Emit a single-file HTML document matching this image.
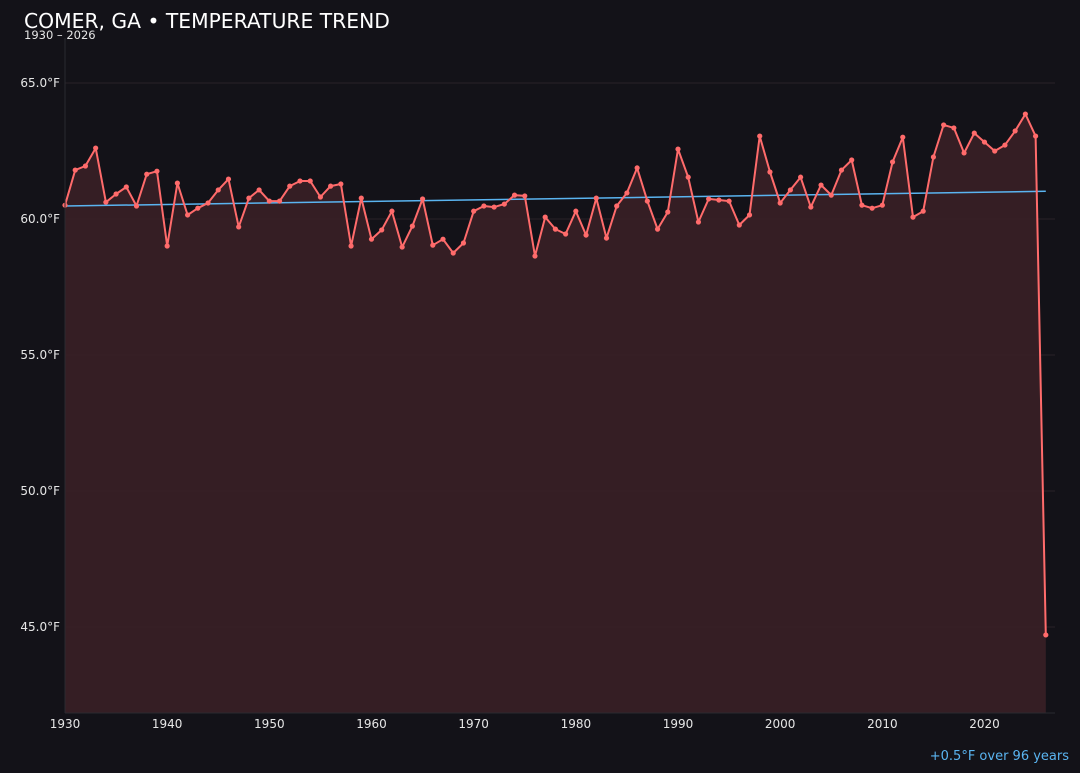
<!DOCTYPE html>
<html><head><meta charset="utf-8">
<style>
html,body{margin:0;padding:0;background:#131218;}
body{width:1080px;height:768px;overflow:hidden;font-family:"Liberation Sans","DejaVu Sans",sans-serif;}
svg text{font-family:"DejaVu Sans","Liberation Sans",sans-serif;}
</style></head>
<body>
<svg id="chart" width="1080" height="768" viewBox="0 0 1080 768" xmlns="http://www.w3.org/2000/svg">
<rect width="1080" height="768" fill="#131218"/>
<text x="24" y="28" fill="#ffffff" font-size="20.3">COMER, GA • TEMPERATURE TREND</text>
<text x="24" y="39" fill="#e6e6e6" font-size="11.5">1930 – 2026</text>
<g id="grid"></g>
<g id="marks"></g>
<g id="axes"></g>
<text x="1069" y="760" fill="#5ab4f0" font-size="13" text-anchor="end">+0.5°F over 96 years</text>
</svg>
<script>
const years = [];
for (let y = 1930; y <= 2026; y++) years.push(y);
const temps = [60.51,61.80,61.95,62.61,60.62,60.92,61.18,60.48,61.65,61.76,
59.01,61.32,60.15,60.40,60.59,61.07,61.47,59.71,60.77,61.07,
60.66,60.66,61.21,61.40,61.40,60.81,61.21,61.29,59.01,60.77,
59.26,59.60,60.29,58.97,59.74,60.74,59.04,59.26,58.75,59.12,
60.29,60.48,60.44,60.55,60.88,60.85,58.64,60.07,59.63,59.45,
60.29,59.41,60.77,59.30,60.48,60.96,61.88,60.66,59.63,60.26,
62.57,61.54,59.89,60.74,60.70,60.66,59.78,60.15,63.05,61.73,
60.59,61.07,61.54,60.44,61.25,60.88,61.80,62.17,60.51,60.40,
60.51,62.10,63.01,60.07,60.29,62.28,63.46,63.35,62.43,63.16,
62.83,62.50,62.72,63.24,63.86,63.05,44.71];
const trendYears = [1930, 2026];
const trendValues = [60.48, 61.02];
const yTicks = [45, 50, 55, 60, 65];
const yTickLabels = ["45.0°F","50.0°F","55.0°F","60.0°F","65.0°F"];
const xTicks = [1930,1940,1950,1960,1970,1980,1990,2000,2010,2020];

const X0=65, X1=1055, Y0=713, PXD=27.2;
const xMin=1930, xMax=2026.9, yMin=41.84;
const yMax = yMin + (Y0-38)/PXD;
const xs = v => X0 + (v-xMin)/(xMax-xMin)*(X1-X0);
const ys = v => Y0 - (v-yMin)/(yMax-yMin)*(Y0-38);
const NS="http://www.w3.org/2000/svg";
function mk(tag, attrs, parent){const e=document.createElementNS(NS,tag);for(const k in attrs)e.setAttribute(k,attrs[k]);parent.appendChild(e);return e;}
const grid=document.getElementById('grid'), marks=document.getElementById('marks'), axes=document.getElementById('axes');

yTicks.forEach((t,i)=>{
  const g=mk('line',{x1:X0,x2:X1,y1:ys(t),y2:ys(t),stroke:'#2a2228','stroke-width':1},grid);
  
  
  const tx=mk('text',{x:60,y:ys(t)+4,fill:'#e6e6e6','font-size':12,'text-anchor':'end'},axes);
  tx.textContent=yTickLabels[i];
  
  
});
xTicks.forEach(t=>{
  const tx=mk('text',{x:xs(t),y:728,fill:'#e6e6e6','font-size':12,'text-anchor':'middle'},axes);
  tx.textContent=t;
  
  
});
const sp=mk('line',{x1:X0,x2:X0,y1:38,y2:Y0,stroke:'#2a2a30','stroke-width':1},axes);


const sb=mk('line',{x1:X0,x2:X1,y1:Y0,y2:Y0,stroke:'#2a2a30','stroke-width':1},axes);



let pts = years.map((y,i)=>xs(y).toFixed(1)+','+ys(temps[i]).toFixed(1));
const area=mk('polygon',{points:xs(years[0])+','+Y0+' '+pts.join(' ')+' '+xs(years[years.length-1])+','+Y0,fill:'#3a2026','fill-opacity':0.9},marks);


const tl=mk('line',{x1:xs(trendYears[0]),y1:ys(trendValues[0]),x2:xs(trendYears[1]),y2:ys(trendValues[1]),stroke:'#5ab4f0','stroke-width':1.5},marks);


const line=mk('polyline',{points:pts.join(' '),fill:'none',stroke:'#ff6b6b','stroke-width':2,'stroke-linejoin':'round'},marks);


years.forEach((y,i)=>{
  const c=mk('circle',{cx:xs(y),cy:ys(temps[i]),r:2.6,fill:'#ff6b6b'},marks);
  
  
});
</script>
</body></html>
